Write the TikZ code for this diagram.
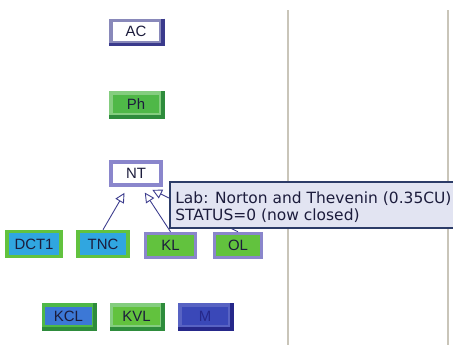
\documentclass[tikz,border=0pt]{standalone}
\usepackage{fontspec}
\setmainfont{Liberation Sans}
\newfontfamily\tipfont{DejaVu Sans}
\usetikzlibrary{arrows.meta}

\definecolor{navy}{HTML}{3A3A8C}
\definecolor{lilac}{HTML}{8A86CC}
\definecolor{leaf}{HTML}{4FB848}
\definecolor{darkleaf}{HTML}{2E8C3C}
\definecolor{lime}{HTML}{62C23E}
\definecolor{sky}{HTML}{30A6E0}
\definecolor{royal}{HTML}{3C78D6}
\definecolor{indigo}{HTML}{3A48B8}
\definecolor{darkindigo}{HTML}{26288A}
\definecolor{tipfill}{HTML}{E2E4F2}
\definecolor{tipline}{HTML}{2C3C68}
\definecolor{pane}{HTML}{C9C5B9}
\definecolor{ink}{HTML}{1C1C3C}

\begin{document}
\begin{tikzpicture}[x=0.02cm, y=-0.02cm,
    box/.style={rectangle, inner sep=0pt, minimum width=1.0cm, minimum height=0.44cm,
        line width=2pt, text=ink, font=\fontsize{8.5}{10}\selectfont},
    course/.style={box, fill=white, draw=navy!60},
    done/.style={box, fill=leaf, draw=leaf!70!white},
    lab/.style={box, fill=lime, draw=lilac},
    intro/.style={box, fill=sky, draw=lime},
    topic/.style={box, fill=royal, draw=leaf},
    link/.style={draw=navy, line width=0.5pt, shorten >=4pt,
        -{Triangle[open, length=5.5pt, width=5.5pt]}}]
    \useasboundingbox (0, 0) rectangle (453, 345);
    \clip (0, 0) rectangle (453, 345);

    % window panes
    \draw[pane, line width=1.1pt] (288, 10) -- (288, 345);
    \draw[pane, line width=1.1pt] (448, 10) -- (448, 345);

    \node[course] (AC) at (136, 31.5) {AC};
    \node[done] (Ph) at (136, 104) {Ph};
    \node[course, draw=lilac, minimum height=0.46cm] (NT) at (136, 173.5) {NT};

    \node[intro, minimum width=1.08cm, minimum height=0.5cm] (DCT1) at (34, 244) {DCT1};
    \node[intro, minimum height=0.5cm] (TNC) at (103, 244) {TNC};
    \node[lab, minimum height=0.48cm] (KL) at (170.5, 245.5) {KL};
    \node[lab, minimum height=0.48cm, minimum width=0.94cm] (OL) at (238, 245.5) {OL};

    \node[topic] (KCL) at (68.5, 316) {KCL};
    \node[done, fill=lime] (KVL) at (136.5, 316) {KVL};
    \node[box, fill=indigo, draw=indigo!85!white, text=darkindigo] (M) at (205, 316) {M};

    % raised edges
    \foreach \n/\c in {AC/navy, Ph/darkleaf, KCL/darkleaf, KVL/darkleaf, M/darkindigo}
        \draw[\c, line width=2pt] (\n.north east) -- (\n.south east) -- (\n.south west);

    \draw[link] (TNC.north) -- ([xshift=-0.16cm]NT.south);
    \draw[link] (KL.north) -- ([xshift=0.1cm]NT.south);
    \draw[link] (OL.north) -- ([xshift=0.2cm]NT.south);

    % tooltip
    \draw[fill=tipfill, draw=tipline, line width=0.6pt] (170, 182) rectangle (470, 228);
    \node[anchor=base west, align=left, inner sep=0pt, text=ink,
        font=\tipfont\fontsize{8.8}{9.6}\selectfont] (tip) at (175, 220)
        {Lab: Norton and Thevenin (0.35CU)\\STATUS=0 (now closed)};
\end{tikzpicture}
\end{document}
